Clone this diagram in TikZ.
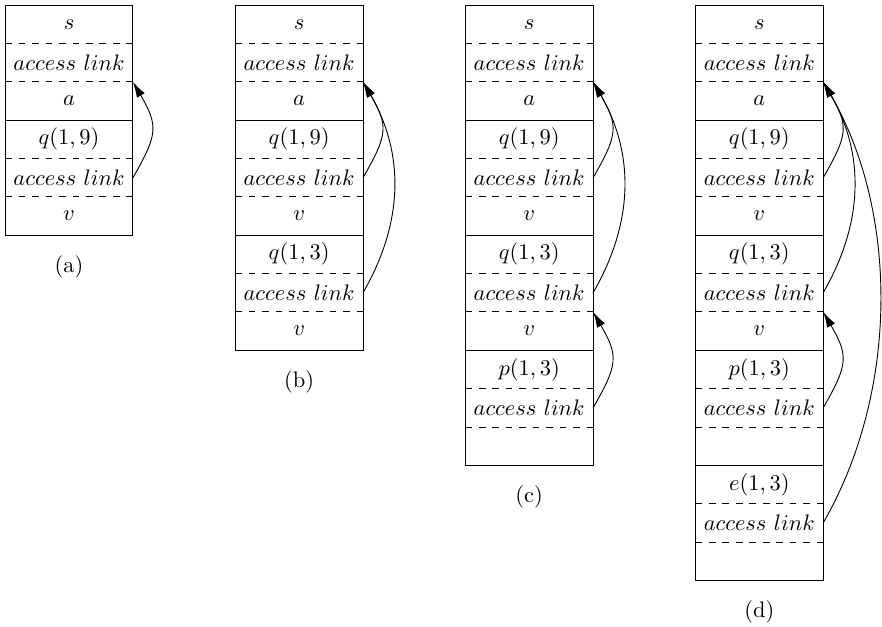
\documentclass[tikz,border=0pt]{standalone}
\usepackage{amsmath}
\usetikzlibrary{arrows.meta, positioning}

\begin{document}
\begin{tikzpicture}[
  cell/.style={minimum width=2cm, minimum height=0.6cm, inner sep=0pt, outer sep=0pt},
  link/.style={-{Latex[length=7pt, width=4pt]}, out=60, in=-60},
  sep/.style={dashed},
  caption/.style={below=0.2cm of #1}]
\useasboundingbox (-0.08,0.08) rectangle (13.72,-9.73);

% Stack (a)
\node[cell] (a1) at (1,-0.3) {$s$};
\node[cell, below=0pt of a1] (a2) {$access\ link$};
\node[cell, below=0pt of a2] (a3) {$a$};
\node[cell, below=0pt of a3] (a4) {$q(1,9)$};
\node[cell, below=0pt of a4] (a5) {$access\ link$};
\node[cell, below=0pt of a5] (a6) {$v$};
\node[caption=a6] (alabel) {(a)};

\draw (a1.north west) rectangle (a3.south east);
\draw (a4.north west) rectangle (a6.south east);
\draw[sep] (a1.south west) -- (a1.south east) (a2.south west) -- (a2.south east)
           (a4.south west) -- (a4.south east) (a5.south west) -- (a5.south east);
\draw[link] (a5.east) to[looseness=1.35] (a2.south east);

% Stack (b)
\node[cell] (b1) at (4.6,-0.3) {$s$};
\node[cell, below=0pt of b1] (b2) {$access\ link$};
\node[cell, below=0pt of b2] (b3) {$a$};
\node[cell, below=0pt of b3] (b4) {$q(1,9)$};
\node[cell, below=0pt of b4] (b5) {$access\ link$};
\node[cell, below=0pt of b5] (b6) {$v$};
\node[cell, below=0pt of b6] (b7) {$q(1,3)$};
\node[cell, below=0pt of b7] (b8) {$access\ link$};
\node[cell, below=0pt of b8] (b9) {$v$};
\node[caption=b9] (blabel) {(b)};

\draw (b1.north west) rectangle (b3.south east);
\draw (b4.north west) rectangle (b6.south east);
\draw (b7.north west) rectangle (b9.south east);
\draw[sep] (b1.south west) -- (b1.south east) (b2.south west) -- (b2.south east)
           (b4.south west) -- (b4.south east) (b5.south west) -- (b5.south east)
           (b7.south west) -- (b7.south east) (b8.south west) -- (b8.south east);
\draw[link] (b5.east) to[looseness=1.35] (b2.south east);
\draw[link] (b8.east) to (b2.south east);

% Stack (c)
\node[cell] (c1) at (8.2,-0.3) {$s$};
\node[cell, below=0pt of c1] (c2) {$access\ link$};
\node[cell, below=0pt of c2] (c3) {$a$};
\node[cell, below=0pt of c3] (c4) {$q(1,9)$};
\node[cell, below=0pt of c4] (c5) {$access\ link$};
\node[cell, below=0pt of c5] (c6) {$v$};
\node[cell, below=0pt of c6] (c7) {$q(1,3)$};
\node[cell, below=0pt of c7] (c8) {$access\ link$};
\node[cell, below=0pt of c8] (c9) {$v$};
\node[cell, below=0pt of c9] (c10) {$p(1,3)$};
\node[cell, below=0pt of c10] (c11) {$access\ link$};
\node[cell, below=0pt of c11] (c12) {};
\node[caption=c12] (clabel) {(c)};

\draw (c1.north west) rectangle (c3.south east);
\draw (c4.north west) rectangle (c6.south east);
\draw (c7.north west) rectangle (c9.south east);
\draw (c10.north west) rectangle (c12.south east);
\draw[sep] (c1.south west) -- (c1.south east) (c2.south west) -- (c2.south east)
           (c4.south west) -- (c4.south east) (c5.south west) -- (c5.south east)
           (c7.south west) -- (c7.south east) (c8.south west) -- (c8.south east)
           (c10.south west) -- (c10.south east) (c11.south west) -- (c11.south east);
\draw[link] (c5.east) to[looseness=1.35] (c2.south east);
\draw[link] (c8.east) to (c2.south east);
\draw[link] (c11.east) to[looseness=1.35] (c8.south east);

% Stack (d)
\node[cell] (d1) at (11.8,-0.3) {$s$};
\node[cell, below=0pt of d1] (d2) {$access\ link$};
\node[cell, below=0pt of d2] (d3) {$a$};
\node[cell, below=0pt of d3] (d4) {$q(1,9)$};
\node[cell, below=0pt of d4] (d5) {$access\ link$};
\node[cell, below=0pt of d5] (d6) {$v$};
\node[cell, below=0pt of d6] (d7) {$q(1,3)$};
\node[cell, below=0pt of d7] (d8) {$access\ link$};
\node[cell, below=0pt of d8] (d9) {$v$};
\node[cell, below=0pt of d9] (d10) {$p(1,3)$};
\node[cell, below=0pt of d10] (d11) {$access\ link$};
\node[cell, below=0pt of d11] (d12) {};
\node[cell, below=0pt of d12] (d13) {$e(1,3)$};
\node[cell, below=0pt of d13] (d14) {$access\ link$};
\node[cell, below=0pt of d14] (d15) {};
\node[caption=d15] (dlabel) {(d)};

\draw (d1.north west) rectangle (d3.south east);
\draw (d4.north west) rectangle (d6.south east);
\draw (d7.north west) rectangle (d9.south east);
\draw (d10.north west) rectangle (d12.south east);
\draw (d13.north west) rectangle (d15.south east);
\draw[sep] (d1.south west) -- (d1.south east) (d2.south west) -- (d2.south east)
           (d4.south west) -- (d4.south east) (d5.south west) -- (d5.south east)
           (d7.south west) -- (d7.south east) (d8.south west) -- (d8.south east)
           (d10.south west) -- (d10.south east) (d11.south west) -- (d11.south east)
           (d13.south west) -- (d13.south east) (d14.south west) -- (d14.south east);
\draw[link] (d5.east) to[looseness=1.35] (d2.south east);
\draw[link] (d8.east) to (d2.south east);
\draw[link] (d11.east) to[looseness=1.35] (d8.south east);
\draw[link] (d14.east) to[looseness=0.88] (d2.south east);

\end{tikzpicture}
\end{document}
